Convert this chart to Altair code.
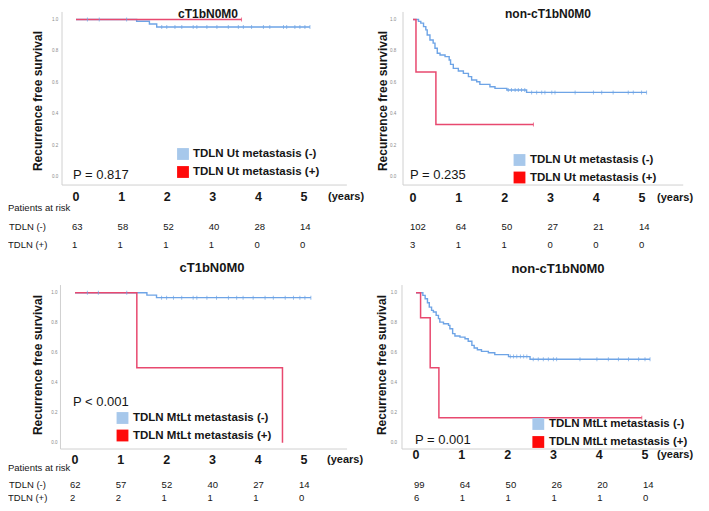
import altair as alt
import pandas as pd

FONT = "Liberation Sans"
M = 8            # page margin of the html page
W, H = 693, 495  # drawing area

BLUE_LINE = "#6ea4e6"
RED_LINE = "#e8496f"
BLUE_BOX = "#a7c8eb"
RED_BOX = "#ff0a0a"
AXIS_GRAY = "#d0d0d0"
TICK_GRAY = "#8a8a8a"
INK = "#161616"

# ---------------------------------------------------------------- data
year_ticks = [0, 1, 2, 3, 4, 5]
year_labels = ["0", "1", "2", "3", "4", "5"]
surv_ticks = [0.0, 0.2, 0.4, 0.6, 0.8, 1.0]
surv_labels = ["0.0", "0.2", "0.4", "0.6", "0.8", "1.0"]

panel_titles = ["cT1bN0M0", "non-cT1bN0M0", "cT1bN0M0", "non-cT1bN0M0"]
legend_neg = ["TDLN Ut metastasis (-)", "TDLN Ut metastasis (-)",
              "TDLN MtLt metastasis (-)", "TDLN MtLt metastasis (-)"]
legend_pos = ["TDLN Ut metastasis (+)", "TDLN Ut metastasis (+)",
              "TDLN MtLt metastasis (+)", "TDLN MtLt metastasis (+)"]
p_values = ["P = 0.817", "P = 0.235", "P < 0.001", "P = 0.001"]
risk_title = "Patients at risk"
row_labels = ["TDLN (-)", "TDLN  (+)"]
years_word = "(years)"
y_title = "Recurrence free survival"

# Panel A : cT1bN0M0, TDLN Ut
a_neg_time = [0.0, 1.33, 1.61, 1.77, 5.13]
a_neg_surv = [1.0, 0.989, 0.971, 0.952, 0.952]
a_neg_cens = [0.25, 0.51, 1.11, 1.88, 1.99, 2.17, 2.32, 2.57, 2.65, 2.87, 3.09,
              3.34, 3.56, 3.67, 3.85, 4.11, 4.25, 4.55, 4.62, 4.80, 4.91, 5.02, 5.13]
a_pos_time = [0.0, 3.63]
a_pos_surv = [1.0, 1.0]
a_pos_cens = [3.63]
a_risk_neg = [63, 58, 52, 40, 28, 14]
a_risk_pos = [1, 1, 1, 1, 0, 0]

# Panel B : non-cT1bN0M0, TDLN Ut
b_neg_time = [0.0, 0.12, 0.17, 0.23, 0.28, 0.31, 0.37, 0.44, 0.48, 0.53, 0.59, 0.70,
              0.79, 0.82, 0.88, 0.99, 1.10, 1.21, 1.28, 1.39, 1.46, 1.68, 1.79, 2.05,
              2.48, 5.10]
b_neg_surv = [1.0, 0.988, 0.977, 0.955, 0.934, 0.902, 0.870, 0.850, 0.817, 0.786,
              0.775, 0.764, 0.743, 0.715, 0.690, 0.673, 0.658, 0.637, 0.616, 0.605,
              0.588, 0.573, 0.563, 0.552, 0.537, 0.537]
b_neg_cens = [2.08, 2.15, 2.23, 2.30, 2.37, 2.44, 2.59, 2.70, 2.81, 2.88, 3.03, 3.10,
              3.54, 3.94, 4.12, 4.37, 4.70, 4.81, 4.99, 5.10]
b_pos_time = [0.0, 0.065, 0.50, 2.63]
b_pos_surv = [1.0, 0.667, 0.333, 0.333]
b_pos_cens = [2.63]
b_risk_neg = [102, 64, 50, 27, 21, 14]
b_risk_pos = [3, 1, 1, 0, 0, 0]

# Panel C : cT1bN0M0, TDLN MtLt
c_neg_time = [0.0, 1.57, 1.78, 5.15]
c_neg_surv = [1.0, 0.984, 0.967, 0.967]
c_neg_cens = [0.27, 0.51, 1.13, 1.89, 2.00, 2.15, 2.33, 2.58, 2.66, 2.88, 3.09, 3.35,
              3.53, 3.67, 3.89, 4.15, 4.33, 4.59, 4.77, 4.91, 5.02, 5.15]
c_pos_time = [0.0, 1.35, 4.53]
c_pos_surv = [1.0, 0.5, 0.0]
c_pos_cens = []
c_risk_neg = [62, 57, 52, 40, 27, 14]
c_risk_pos = [2, 2, 1, 1, 1, 0]

# Panel D : non-cT1bN0M0, TDLN MtLt
d_neg_time = [0.0, 0.15, 0.20, 0.25, 0.29, 0.34, 0.38, 0.44, 0.49, 0.52, 0.60, 0.71,
              0.74, 0.80, 0.85, 0.96, 1.07, 1.14, 1.22, 1.27, 1.34, 1.43, 1.58, 1.72,
              2.02, 2.49, 5.11]
d_neg_surv = [1.0, 0.982, 0.960, 0.933, 0.904, 0.882, 0.871, 0.849, 0.827, 0.804,
              0.793, 0.782, 0.760, 0.727, 0.711, 0.704, 0.693, 0.676, 0.649, 0.631,
              0.620, 0.609, 0.600, 0.587, 0.574, 0.556, 0.556]
d_neg_cens = [2.06, 2.13, 2.20, 2.28, 2.35, 2.42, 2.56, 2.67, 2.78, 2.89, 3.00, 3.07,
              3.58, 3.95, 4.20, 4.42, 4.64, 4.86, 5.00, 5.11]
d_pos_time = [0.0, 0.10, 0.31, 0.50, 4.93]
d_pos_surv = [1.0, 0.833, 0.5, 0.167, 0.167]
d_pos_cens = [4.93]
d_risk_neg = [99, 64, 50, 26, 20, 14]
d_risk_pos = [6, 1, 1, 1, 1, 0]

series = [
    (a_neg_time, a_neg_surv, a_neg_cens, a_pos_time, a_pos_surv, a_pos_cens, a_risk_neg, a_risk_pos),
    (b_neg_time, b_neg_surv, b_neg_cens, b_pos_time, b_pos_surv, b_pos_cens, b_risk_neg, b_risk_pos),
    (c_neg_time, c_neg_surv, c_neg_cens, c_pos_time, c_pos_surv, c_pos_cens, c_risk_neg, c_risk_pos),
    (d_neg_time, d_neg_surv, d_neg_cens, d_pos_time, d_pos_surv, d_pos_cens, d_risk_neg, d_risk_pos),
]

# ---------------------------------------------------------------- layout (page pixels)
layout = [
    dict(x0=76, ppy=45.6, y1=19.5, y0=177, t_lo=-0.307, t_hi=5.94, s_lo=-0.051, s_hi=1.048,
         title=(208, 14), title_size=12, ytitle=(38, 101), ytick_dx=-7, box_x=183,
         box_y=(154, 172), leg_x=193, p=(73, 175), xlab_y=197, years_x=328, patients_y=208,
         rows_y=(227, 245), num_dx=-4, row_labels=True),
    dict(x0=413, ppy=45.8, y1=19.5, y0=177, t_lo=-0.218, t_hi=5.90, s_lo=-0.051, s_hi=1.048,
         title=(548, 14), title_size=12, ytitle=(383, 101), ytick_dx=-10, box_x=519.5,
         box_y=(160, 177.5), leg_x=530, p=(410, 175), xlab_y=198, years_x=657, patients_y=208,
         rows_y=(227, 245), num_dx=-3, row_labels=False),
    dict(x0=75, ppy=45.8, y1=292.7, y0=442.7, t_lo=-0.317, t_hi=5.94, s_lo=-0.042, s_hi=1.051,
         title=(212, 268), title_size=13, ytitle=(38, 365), ytick_dx=-6, box_x=122.5,
         box_y=(418, 435.5), leg_x=133, p=(73, 402), xlab_y=460, years_x=327, patients_y=468,
         rows_y=(485, 497.5), num_dx=-5, row_labels=True),
    dict(x0=416, ppy=45.8, y1=292.7, y0=442.7, t_lo=-0.306, t_hi=5.83, s_lo=-0.042, s_hi=1.051,
         title=(558, 269), title_size=13, ytitle=(382, 365), ytick_dx=-8, box_x=538.3,
         box_y=(424, 442), leg_x=549, p=(415, 440), xlab_y=455, years_x=657, patients_y=468,
         rows_y=(485, 497.5), num_dx=-2, row_labels=False),
]


def surv_at(times, survs, t):
    s = survs[0]
    for ti, si in zip(times, survs):
        if ti <= t:
            s = si
    return s


def px(v):
    return v - M


def text_layer(txt, x, y, size, bold=False, align="left", angle=0, color=INK):
    return alt.Chart(pd.DataFrame({"txt": [txt]})).mark_text(
        font=FONT, fontSize=size, fontWeight="bold" if bold else "normal",
        align=align, baseline="middle", angle=angle, color=color
    ).encode(x=alt.value(px(x)), y=alt.value(px(y)), text="txt:N")


layers = []
for i in range(4):
    nt, ns, nc, pt, ps, pc, rn, rp = series[i]
    L = layout[i]
    xsc = alt.Scale(domain=[0, 5], range=[px(L["x0"]), px(L["x0"] + 5 * L["ppy"])],
                    nice=False, zero=False)
    ysc = alt.Scale(domain=[0, 1], range=[px(L["y0"]), px(L["y1"])], nice=False, zero=False)

    def X(f):
        return alt.X(f, type="quantitative", scale=xsc, axis=None)

    def Y(f):
        return alt.Y(f, type="quantitative", scale=ysc, axis=None)

    # frame
    layers.append(alt.Chart(pd.DataFrame({"t": [L["t_lo"]], "s": [L["s_lo"]], "s2": [L["s_hi"]]}))
                  .mark_rule(color=AXIS_GRAY, strokeWidth=1)
                  .encode(x=X("t"), y=Y("s"), y2="s2"))
    layers.append(alt.Chart(pd.DataFrame({"t": [L["t_lo"]], "t2": [L["t_hi"]], "s": [L["s_lo"]]}))
                  .mark_rule(color=AXIS_GRAY, strokeWidth=1)
                  .encode(x=X("t"), x2="t2", y=Y("s")))
    # tiny y tick labels
    layers.append(alt.Chart(pd.DataFrame({"s": surv_ticks, "lab": surv_labels,
                                          "t": [L["t_lo"]] * len(surv_ticks)}))
                  .mark_text(font=FONT, fontSize=4.5, color=TICK_GRAY, dx=L["ytick_dx"],
                             align="center", baseline="middle")
                  .encode(x=X("t"), y=Y("s"), text="lab:N"))
    # survival curves
    layers.append(alt.Chart(pd.DataFrame({"t": nt, "s": ns}))
                  .mark_line(interpolate="step-after", color=BLUE_LINE, strokeWidth=1.4)
                  .encode(x=X("t"), y=Y("s")))
    layers.append(alt.Chart(pd.DataFrame({"t": pt, "s": ps}))
                  .mark_line(interpolate="step-after", color=RED_LINE, strokeWidth=1.5)
                  .encode(x=X("t"), y=Y("s")))
    # censor marks
    if nc:
        layers.append(alt.Chart(pd.DataFrame({"t": nc, "s": [surv_at(nt, ns, c) for c in nc]}))
                      .mark_tick(orient="vertical", size=4, thickness=1, color=BLUE_LINE)
                      .encode(x=X("t"), y=Y("s")))
    if pc:
        layers.append(alt.Chart(pd.DataFrame({"t": pc, "s": [surv_at(pt, ps, c) for c in pc]}))
                      .mark_tick(orient="vertical", size=4, thickness=1, color=RED_LINE)
                      .encode(x=X("t"), y=Y("s")))
    # legend
    for col, yy, lab in ((BLUE_BOX, L["box_y"][0], legend_neg[i]),
                         (RED_BOX, L["box_y"][1], legend_pos[i])):
        layers.append(alt.Chart(pd.DataFrame({"k": [lab]}))
                      .mark_square(size=140, color=col, opacity=1, filled=True)
                      .encode(x=alt.value(px(L["box_x"])), y=alt.value(px(yy))))
        layers.append(text_layer(lab, L["leg_x"], yy, 11.5, bold=True))
    # p value
    layers.append(text_layer(p_values[i], L["p"][0], L["p"][1], 13))
    # titles
    layers.append(text_layer(panel_titles[i], L["title"][0], L["title"][1], L["title_size"],
                             bold=True, align="center"))
    layers.append(text_layer(y_title, L["ytitle"][0], L["ytitle"][1], 12, bold=True,
                             align="center", angle=270))
    # year labels under the plot
    layers.append(alt.Chart(pd.DataFrame({"t": year_ticks, "lab": year_labels}))
                  .mark_text(font=FONT, fontSize=12.5, fontWeight="bold", color=INK,
                             align="center", baseline="middle")
                  .encode(x=X("t"), y=alt.value(px(L["xlab_y"])), text="lab:N"))
    layers.append(text_layer(years_word, L["years_x"], L["xlab_y"], 11, bold=True))
    # risk table
    for yy, vals in ((L["rows_y"][0], rn), (L["rows_y"][1], rp)):
        layers.append(alt.Chart(pd.DataFrame({"t": year_ticks, "n": [str(v) for v in vals]}))
                      .mark_text(font=FONT, fontSize=9.5, color=INK, align="left",
                                 baseline="middle", dx=L["num_dx"])
                      .encode(x=X("t"), y=alt.value(px(yy)), text="n:N"))
    if L["row_labels"]:
        layers.append(text_layer(risk_title, M, L["patients_y"], 9.5))
        layers.append(text_layer(row_labels[0], M + 1, L["rows_y"][0], 9.5))
        layers.append(text_layer(row_labels[1], M, L["rows_y"][1], 9.5))

chart = (
    alt.layer(*layers)
    .resolve_scale(x="independent", y="independent")
    .properties(width=W, height=H, autosize=alt.AutoSizeParams(type="none"),
                padding=0, background="white")
    .configure_view(stroke=None)
)

chart.save("out.html", embed_options={"renderer": "svg", "actions": False})
